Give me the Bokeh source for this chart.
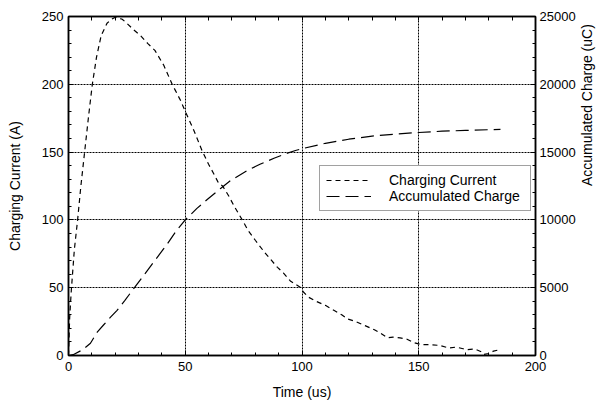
import math
from bokeh.plotting import figure
from bokeh.models import Range1d, LinearAxis, SingleIntervalTicker, FixedTicker, Legend, LegendItem
from bokeh.embed import file_html
from bokeh.resources import INLINE

# ---- data ----
time_current = [0, 0.5, 1.2, 2.5, 3.9, 5.3, 6.9, 8.5, 10.2, 12, 14, 16.5, 18.5, 20.1, 23,
                25, 28, 30.8, 34, 37, 40.8, 44.4, 48, 50, 53.7, 57.2, 60, 62.2, 64.3, 66,
                68.5, 71, 74.4, 77, 80, 84, 89.5, 92, 95, 99.5, 100.5, 102.8, 106, 110,
                114, 117, 119.5, 123, 127, 131, 134, 136.6, 139, 142, 145, 147.8, 151,
                155, 159, 163, 166, 169, 171, 174, 176.5, 177.8, 180, 182, 184]
current = [0, 28, 48, 78, 100, 125, 150, 175, 200, 220, 236, 245, 248, 249.5, 248,
           245, 240, 236, 230, 225, 214, 200, 188, 180, 166, 151, 141, 134, 127, 125,
           118, 110, 100, 92, 85, 76, 65, 61, 55, 50, 47, 43, 40, 37,
           33, 30, 27, 25, 22, 19, 16, 13, 13.5, 13, 12, 9.6, 8,
           8, 7.4, 5.5, 6.2, 5, 4.4, 4.8, 3, 0.8, 1.5, 3.2, 4]

time_charge = [0, 2, 6, 9.4, 12.3, 15, 18, 20.8, 24, 28, 32.3, 37, 42.3, 46, 50, 55,
               59.4, 65, 69.4, 76.5, 82, 88, 93, 97.2, 100, 110, 120, 130, 140, 150,
               160, 170, 180, 185]
charge = [0, 60, 420, 907, 1720, 2250, 2825, 3330, 4030, 4950, 5930, 7010, 8220, 9150,
          10000, 10850, 11500, 12300, 12900, 13640, 14100, 14550, 14880, 15118, 15250,
          15650, 15950, 16180, 16330, 16445, 16540, 16600, 16650, 16670]

x_ticks_interval = 50
y_left_interval = 50
y_right_interval = 5000
top_minor_ticks = list(range(0, 201, 10))

FONT = "Liberation Sans"
TICK_FS = "13px"
LABEL_FS = "14px"

p = figure(width=610, height=402, output_backend="svg", toolbar_location=None,
           x_range=Range1d(0, 200), y_range=Range1d(0, 250),
           min_border_left=68, min_border_right=75, min_border_top=16, min_border_bottom=47,
           background_fill_color="white", border_fill_color="white")
p.extra_y_ranges = {"q": Range1d(0, 25000)}

p.outline_line_color = "black"
p.outline_line_width = 1.5


def style_axis(ax, ticker):
    ax.ticker = ticker
    ax.axis_line_color = "black"
    ax.axis_line_width = 1.5
    ax.major_tick_in = 5
    ax.major_tick_out = 0
    ax.minor_tick_in = 3
    ax.minor_tick_out = 0
    ax.major_tick_line_color = "black"
    ax.minor_tick_line_color = "black"
    ax.major_label_text_font = FONT
    ax.major_label_text_color = "black"
    ax.major_label_text_font_size = TICK_FS
    ax.major_label_standoff = 5
    ax.axis_label_text_font = FONT
    ax.axis_label_text_font_size = LABEL_FS
    ax.axis_label_text_font_style = "normal"
    ax.axis_label_text_color = "black"


xt = SingleIntervalTicker(interval=x_ticks_interval, num_minor_ticks=5)
yt = SingleIntervalTicker(interval=y_left_interval, num_minor_ticks=5)
rt = SingleIntervalTicker(interval=y_right_interval, num_minor_ticks=5)

xax = p.xaxis[0]
style_axis(xax, xt)
xax.major_label_standoff = 6
xax.axis_label = "Time (us)"
xax.axis_label_standoff = 10

yax = p.yaxis[0]
style_axis(yax, yt)
yax.axis_label = "Charging Current (A)"
yax.axis_label_standoff = 16

rax = LinearAxis(y_range_name="q")
style_axis(rax, rt)
rax.major_label_standoff = 4
rax.axis_label = "Accumulated Charge (uC)"
rax.axis_label_standoff = 8
rax.axis_label_orientation = math.pi / 2
p.add_layout(rax, "right")

# top border: tick marks only, no labels
tax = LinearAxis(ticker=FixedTicker(ticks=[], minor_ticks=top_minor_ticks))
tax.axis_line_color = "black"
tax.axis_line_width = 1.5
tax.minor_tick_in = 4
tax.minor_tick_out = 0
tax.minor_tick_line_color = "black"
tax.major_label_standoff = 0
p.add_layout(tax, "above")

for g, t in ((p.xgrid[0], xt), (p.ygrid[0], yt)):
    g.ticker = t
    g.grid_line_color = "black"
    g.grid_line_width = 1
    g.grid_line_dash = "2 1"

r1 = p.line(time_current, current, line_color="black", line_width=1.2, line_dash="5 4")
r2 = p.line(time_charge, charge, y_range_name="q", line_color="black", line_width=1.2,
            line_dash="13 6")

legend = Legend(items=[LegendItem(label="Charging Current", renderers=[r1]),
                       LegendItem(label="Accumulated Charge", renderers=[r2])],
                location=(251, 144))
legend.label_text_font = FONT
legend.label_text_font_size = LABEL_FS
legend.label_text_color = "black"
legend.glyph_width = 45
legend.glyph_height = 14
legend.label_height = 14
legend.label_standoff = 18
legend.label_width = 135
legend.spacing = 0
legend.padding = 6
legend.margin = 0
legend.border_line_color = "#444444"
legend.border_line_width = 1
legend.background_fill_alpha = 1
p.add_layout(legend, "center")

open("out.html", "w").write(file_html(p, INLINE))
